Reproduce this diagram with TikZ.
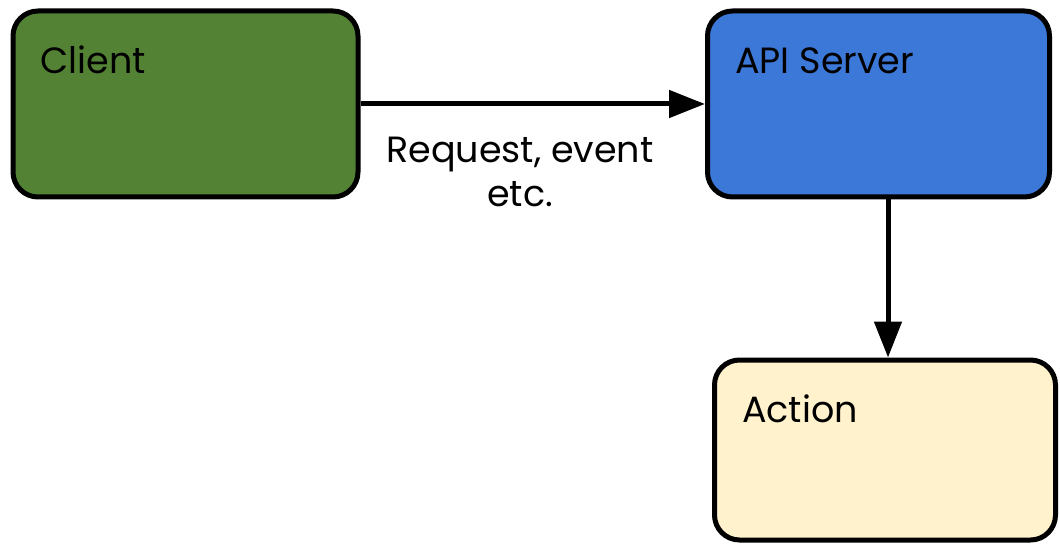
\documentclass[tikz,border=0pt]{standalone}
\usepackage{fontspec}
\setmainfont{Poppins}
\usepackage{tikz}
\usetikzlibrary{arrows.meta, positioning}

\definecolor{clientgreen}{HTML}{548235}
\definecolor{serverblue}{HTML}{3C78D8}
\definecolor{actionyellow}{HTML}{FFF2CC}

\tikzset{
  box/.style={draw=black, line width=5pt, rounded corners=25pt,
    minimum width=#1, inner sep=0pt},
  title/.style={anchor=base west, inner sep=0pt, xshift=30pt, yshift=-65pt},
  flow/.style={line width=5pt, -{Triangle[length=36pt, width=27pt]}}
}

\begin{document}
\begin{tikzpicture}[x=1pt, y=-1pt, font=\fontsize{36.5}{44}\selectfont]
  \useasboundingbox (0,0) rectangle (1060,545);
  \node [box=345pt, minimum height=186pt, fill=clientgreen,
    label={[title]north west:Client}] (client) at (185.5,104) {};
  \node [box=342pt, minimum height=186pt, fill=serverblue,
    label={[title]north west:API Server}] (api) at (878.5,104) {};
  \node [box=341pt, minimum height=180pt, fill=actionyellow,
    label={[title]north west:Action}] (action) at (885,450) {};
  \coordinate (down) at (888,0);
  \draw [flow] (client.east) -- (api.west);
  \draw [flow] (api.south -| down) -- (action.north -| down);
  \node [anchor=north, align=center, inner sep=0pt] (req) at (520,137)
    {Request, event\\etc.};
\end{tikzpicture}
\end{document}
